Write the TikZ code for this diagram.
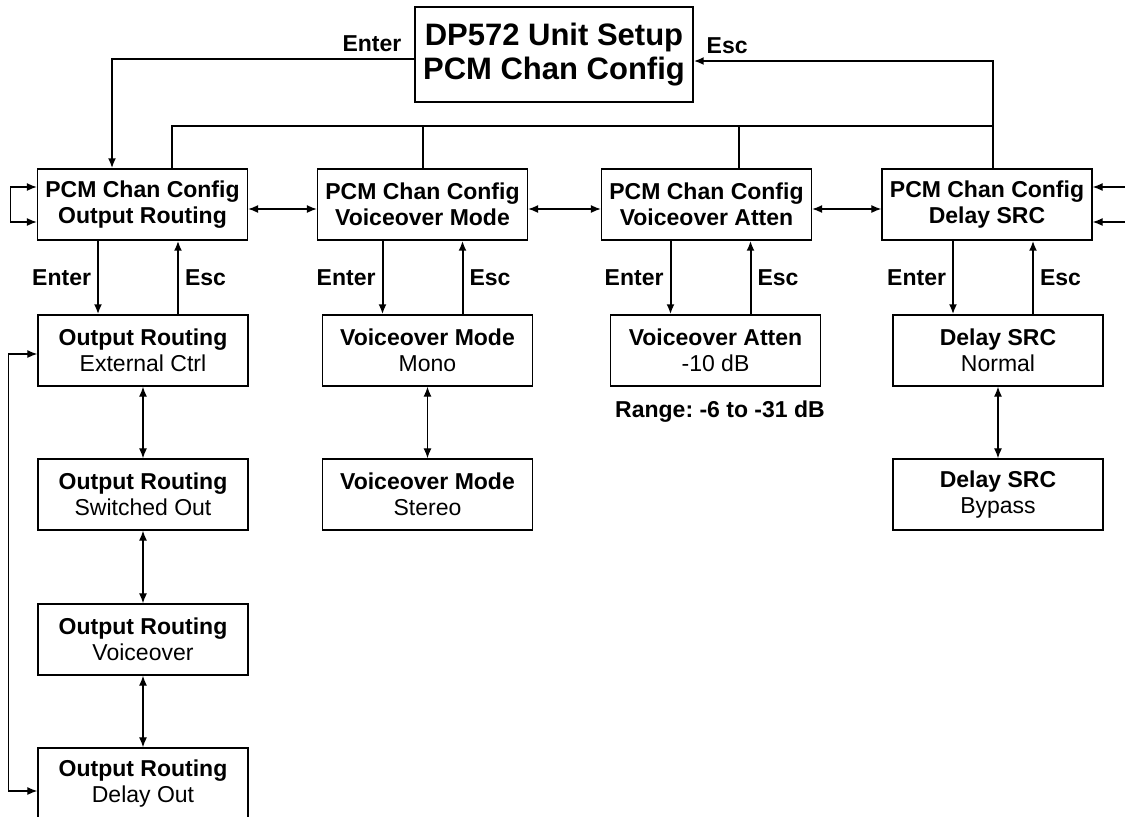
\documentclass[tikz,border=0pt]{standalone}
\usepackage{fontspec}
\setmainfont{Liberation Sans}
\usetikzlibrary{arrows.meta}
\newcommand{\menufont}{\fontsize{11.5}{12.75}\selectfont}
\newcommand{\topfont}{\fontsize{15.5}{17}\selectfont}
\frenchspacing
\begin{document}
\begin{tikzpicture}[
    x=0.5pt, y=-0.5pt,
    >={Latex[length=5pt,width=4pt]},
    every node/.style={font=\menufont},
    menu/.style={draw, line width=0.7pt, minimum width=105pt, minimum height=35.5pt, inner sep=0pt, align=center},
    head/.style={menu, font=\menufont\bfseries},
    flow/.style={line width=1pt},
    nav/.style={line width=0.6pt, <->},
    feed/.style={line width=0.6pt, ->},
    lbl/.style={font=\menufont\bfseries, inner sep=3pt}
  ]
  \useasboundingbox (0,0) rectangle (1125,816);

  \node[menu, minimum width=139pt, minimum height=47.5pt, font=\topfont\bfseries] (top) at (554,54.5) {DP572 Unit Setup\\PCM Chan Config};

  % first level
  \node[head] (r1a) at (142.5,204.5) {PCM Chan Config\\Output Routing};
  \node[head] (r1b) at (422.5,204.5) {PCM Chan Config\\Voiceover Mode};
  \node[head] (r1c) at (706.5,204.5) {PCM Chan Config\\Voiceover Atten};
  \node[head] (r1d) at (987,204.5) {PCM Chan Config\\Delay SRC};

  % values
  \node[menu] (r2a) at (143,350.5) {\textbf{Output Routing}\\External Ctrl};
  \node[menu] (r3a) at (143,494.5) {\textbf{Output Routing}\\Switched Out};
  \node[menu] (r4a) at (143,639.5) {\textbf{Output Routing}\\Voiceover};
  \node[menu] (r5a) at (143,783.5) {\textbf{Output Routing}\\Delay Out};
  \node[menu] (r2b) at (427.5,350.5) {\textbf{Voiceover Mode}\\Mono};
  \node[menu] (r3b) at (427.5,494.5) {\textbf{Voiceover Mode}\\Stereo};
  \node[menu] (r2c) at (715.5,350.5) {\textbf{Voiceover Atten}\\-10 dB};
  \node[lbl] (range) at (720,412) {Range: -6 to -31 dB};
  \node[menu] (r2d) at (998,350.5) {\textbf{Delay SRC}\\Normal};
  \node[menu] (r3d) at (998,494.5) {\textbf{Delay SRC}\\Bypass};

  % enter / esc from the top menu
  \draw[flow,->] ([yshift=-2.25pt]top.west) -| ([xshift=-15.25pt]r1a.north)
    node[lbl, pos=0, anchor=south east, xshift=-3pt] {Enter};
  \coordinate (t1) at (172,126);
  \coordinate (t3) at (739,126);
  \coordinate (t4) at (993,126);
  \draw[flow] (r1a.north -| t1) -- (t1) -- (t4);
  \draw[flow] (r1b.north) -- (r1b.north |- t1);
  \draw[flow] (t3 |- r1c.north) -- (t3);
  \draw[flow,->] (t4 |- r1d.north) -- (t4) |- ([yshift=-3.25pt]top.east)
    node[lbl, pos=1, anchor=south west, xshift=3pt] {Esc};

  % moving along the first level
  \foreach \a/\b in {r1a/r1b, r1b/r1c, r1c/r1d}
    \draw[nav] ([yshift=-2.25pt]\a.east) -- ([yshift=-2.25pt]\b.west);
  \draw[nav] ([yshift=8.75pt]r1a.west) -- ++(-13pt,0) |- ([yshift=-8.75pt]r1a.west);
  \draw[feed] ([xshift=17pt,yshift=8.75pt]r1d.east) -- ([yshift=8.75pt]r1d.east);
  \draw[feed] ([xshift=17pt,yshift=-8.75pt]r1d.east) -- ([yshift=-8.75pt]r1d.east);

  % enter / esc per column
  \foreach \c in {a,b,c,d}{
    \coordinate (en\c) at ([xshift=-22.5pt]r2\c.north);
    \coordinate (es\c) at ([xshift=17.5pt]r2\c.north);
    \draw[flow,->] (en\c |- r1\c.south) -- (en\c) node[lbl, midway, left] {Enter};
    \draw[flow,->] (es\c) -- (es\c |- r1\c.south) node[lbl, midway, right] {Esc};
  }

  % moving through the values
  \foreach \a/\b in {r2a/r3a, r3a/r4a, r4a/r5a, r2b/r3b, r2d/r3d}
    \draw[nav] (\a.south) -- (\b.north);
  \draw[nav] ([yshift=-1.75pt]r2a.west) -- ++(-14.5pt,0) |- ([yshift=-3.75pt]r5a.west);
\end{tikzpicture}
\end{document}
